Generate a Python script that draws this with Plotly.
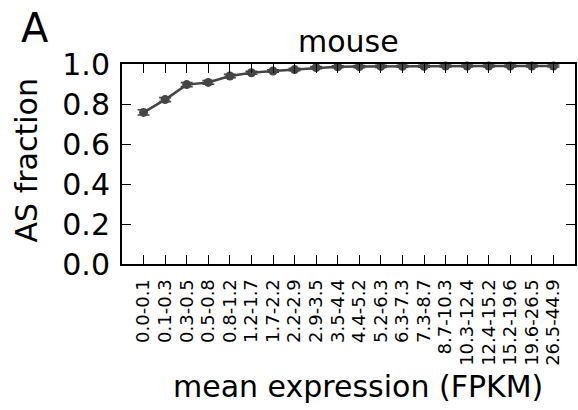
import plotly.graph_objects as go

categories = ["0.0-0.1", "0.1-0.3", "0.3-0.5", "0.5-0.8", "0.8-1.2", "1.2-1.7", "1.7-2.2",
              "2.2-2.9", "2.9-3.5", "3.5-4.4", "4.4-5.2", "5.2-6.3", "6.3-7.3", "7.3-8.7",
              "8.7-10.3", "10.3-12.4", "12.4-15.2", "15.2-19.6", "19.6-26.5", "26.5-44.9"]
as_fraction = [0.758, 0.822, 0.897, 0.908, 0.940, 0.956, 0.965, 0.972, 0.982, 0.986,
               0.987, 0.988, 0.989, 0.989, 0.990, 0.990, 0.990, 0.990, 0.990, 0.990]
err = [0.013, 0.010, 0.010, 0.009, 0.008, 0.007, 0.006, 0.006, 0.005, 0.005,
       0.005, 0.005, 0.005, 0.005, 0.005, 0.005, 0.005, 0.005, 0.005, 0.005]
y_ticks = [0.0, 0.2, 0.4, 0.6, 0.8, 1.0]

W, H = 578, 410
L, R, T, B = 122, 1, 64, 146
pw, ph = W - L - R, H - T - B

def px(x):
    return (x - L) / pw

def py(y):
    return (H - B - y) / ph

FONT = "DejaVu Sans"
xs = list(range(len(categories)))

fig = go.Figure()
fig.add_trace(go.Scatter(
    x=xs, y=as_fraction,
    mode="lines+markers",
    line=dict(color="#454545", width=2.5),
    marker=dict(color="#454545", size=9, symbol="circle"),
    error_y=dict(type="data", array=err, visible=True, color="#454545", thickness=1.6, width=6),
    showlegend=False,
    cliponaxis=False,
))

fig.update_layout(
    width=W, height=H, autosize=False,
    margin=dict(l=L, r=R, t=T, b=B, pad=0),
    paper_bgcolor="white", plot_bgcolor="white",
    font=dict(family=FONT, color="black"),
    xaxis=dict(
        range=[-1, 20], tickmode="array", tickvals=xs, ticktext=categories,
        tickangle=-90, tickfont=dict(size=18, family=FONT, color="black"),
        ticks="inside", ticklen=9, tickwidth=1.3, tickcolor="black",
        showline=True, linecolor="black", linewidth=2, mirror="ticks",
        showgrid=False, zeroline=False, ticklabelstandoff=6,
    ),
    yaxis=dict(
        range=[0, 1], tickmode="array", tickvals=y_ticks,
        ticktext=[f"{v:.1f}" for v in y_ticks],
        tickfont=dict(size=30, family=FONT, color="black"),
        ticks="inside", ticklen=9, tickwidth=1.3, tickcolor="black",
        showline=True, linecolor="black", linewidth=2, mirror="ticks",
        showgrid=False, zeroline=False, ticklabelstandoff=4,
    ),
    annotations=[
        dict(text="A", x=px(35), y=py(28), xref="paper", yref="paper",
             xanchor="center", yanchor="middle", showarrow=False,
             font=dict(size=40, family=FONT, color="black")),
        dict(text="mouse", x=0.5, y=py(42), xref="paper", yref="paper",
             xanchor="center", yanchor="middle", showarrow=False,
             font=dict(size=30, family=FONT, color="black")),
        dict(text="AS fraction", x=px(26), y=py(160), xref="paper", yref="paper",
             xanchor="center", yanchor="middle", showarrow=False, textangle=-90,
             font=dict(size=30, family=FONT, color="black")),
        dict(text="mean expression (FPKM)", x=px(359), y=py(386), xref="paper", yref="paper",
             xanchor="center", yanchor="middle", showarrow=False,
             font=dict(size=30, family=FONT, color="black")),
    ],
)

fig.write_html("out.html")
